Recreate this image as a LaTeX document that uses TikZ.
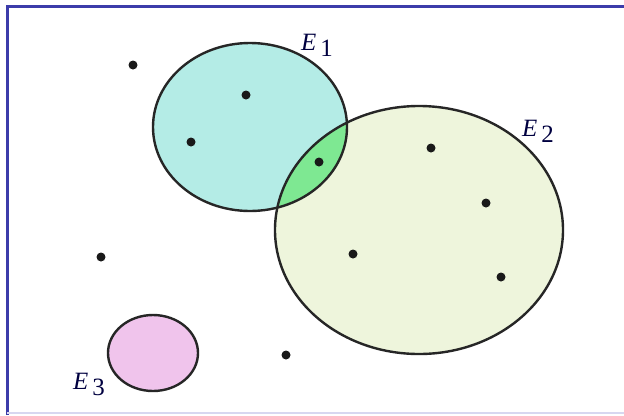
\documentclass[tikz,border=0pt]{standalone}
\usepackage{fontspec}
\setmainfont{Liberation Serif}
\begin{document}
\begin{tikzpicture}[x=1bp,y=-1bp,
  setline/.style={draw=black!85,line width=2.4bp},
  dot/.style={fill=black!90},
  lbl/.style={font=\fontsize{25}{25}\selectfont, text=black!75!blue, inner sep=0pt}]
\useasboundingbox (0,0) rectangle (624,415);
\fill[white] (0,0) rectangle (624,415);
% frame
\draw[line width=3bp, color={rgb,255:red,60;green,60;blue,170}] (7,415) -- (7,6) -- (624,6);
\draw[line width=1.5bp, color={rgb,255:red,215;green,215;blue,240}] (7,413) -- (624,413);
% fills
\fill[color={rgb,255:red,180;green,236;blue,230}] (250,127) ellipse [x radius=97, y radius=84];
\fill[color={rgb,255:red,238;green,245;blue,220}] (419,230) ellipse [x radius=144, y radius=124];
\begin{scope}
  \clip (250,127) ellipse [x radius=97, y radius=84];
  \fill[color={rgb,255:red,126;green,232;blue,146}] (419,230) ellipse [x radius=144, y radius=124];
\end{scope}
\fill[color={rgb,255:red,240;green,196;blue,236}] (153,353) ellipse [x radius=45, y radius=38];
% outlines
\draw[setline] (250,127) ellipse [x radius=97, y radius=84];
\draw[setline] (419,230) ellipse [x radius=144, y radius=124];
\draw[setline] (153,353) ellipse [x radius=45, y radius=38];
% points
\foreach \p in {(133,65),(246,95),(191,142),(319,162),(431,148),(486,203),(353,254),(501,277),(101,257),(286,355)}
  \fill[dot] \p circle (4.5);
% labels
\node[lbl, anchor=base west] (e1) at (301,50) {\textit{E}\hspace{4bp}\raisebox{-6bp}{1}};
\node[lbl, anchor=base west] (e2) at (522,136) {\textit{E}\hspace{4bp}\raisebox{-6bp}{2}};
\node[lbl, anchor=base west] (e3) at (73,389) {\textit{E}\hspace{4bp}\raisebox{-6bp}{3}};
\end{tikzpicture}
\end{document}
